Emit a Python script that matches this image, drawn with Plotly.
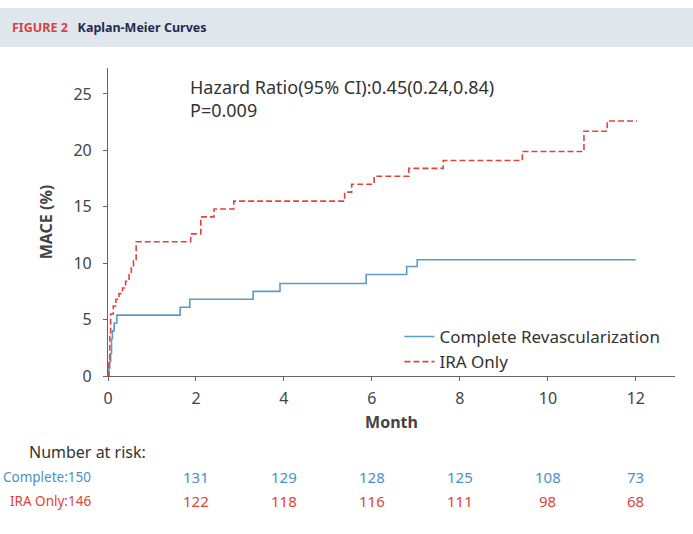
import plotly.graph_objects as go

# Kaplan-Meier step data (cumulative MACE %)
cr_t = [0, 0.02, 0.04, 0.06, 0.08, 0.10, 0.14, 0.20, 1.64, 1.86, 3.30, 3.91, 5.87, 6.79, 7.03, 12.0]
cr_y = [0, 0.7, 1.3, 2.0, 3.3, 4.0, 4.7, 5.4, 6.1, 6.8, 7.5, 8.2, 9.0, 9.7, 10.3, 10.3]

ira_t = [0, 0.02, 0.04, 0.06, 0.12, 0.18, 0.25, 0.33, 0.40, 0.48, 0.53, 0.58, 0.64, 1.88, 2.11,
         2.41, 2.86, 5.38, 5.54, 6.05, 6.84, 7.62, 9.42, 10.82, 11.35, 12.03]
ira_y = [0, 1.5, 3.5, 5.5, 6.2, 6.8, 7.3, 7.8, 8.4, 9.0, 9.6, 10.2, 11.9, 12.6, 14.1,
         14.8, 15.5, 16.3, 17.0, 17.7, 18.4, 19.1, 19.9, 21.7, 22.6, 22.6]

x_ticks = [0, 2, 4, 6, 8, 10, 12]
y_ticks = [0, 5, 10, 15, 20, 25]

risk_times = [0, 2, 4, 6, 8, 10, 12]
complete_risk = [150, 131, 129, 128, 125, 108, 73]
ira_risk = [146, 122, 118, 116, 111, 98, 68]

BLUE = "#5b9bc8"
RED = "#e0453a"
BLUE_T = "#4a8fc7"
RED_T = "#d9443b"
FONT = "Noto Sans"


def py(p):
    # page pixel row -> paper y
    return (376 - p) / 308


def px(p):
    # page pixel column -> paper x
    return (p - 108) / 567


fig = go.Figure()
fig.add_trace(go.Scatter(x=cr_t, y=cr_y, mode="lines", line=dict(color=BLUE, width=1.6, shape="hv"),
                         name="Complete Revascularization"))
fig.add_trace(go.Scatter(x=ira_t, y=ira_y, mode="lines",
                         line=dict(color=RED, width=1.6, shape="hv", dash="6px,3px"),
                         name="IRA Only"))

ann = []
ann.append(dict(x=px(189), y=py(74), xref="paper", yref="paper", xanchor="left", yanchor="top",
                align="left", showarrow=False, borderpad=0,
                text="Hazard Ratio(95% CI):0.45(0.24,0.84)<br>P=0.009",
                font=dict(family=FONT, size=18, color="#333333")))
# header
ann.append(dict(x=px(10), y=py(28), xref="paper", yref="paper",
                xanchor="left", yanchor="middle", showarrow=False,
                text="<b><span style='color:#d9423f'>FIGURE 2</span></b>   <b>Kaplan-Meier Curves</b>",
                font=dict(family=FONT, size=12.5, color="#1f2d4d")))
# number at risk
ann.append(dict(x=px(27), y=py(452), xref="paper", yref="paper",
                xanchor="left", yanchor="middle", showarrow=False, text="Number at risk:",
                font=dict(family=FONT, size=16, color="#333333")))
for i, t in enumerate(risk_times):
    if i == 0:
        ann.append(dict(x=px(93), y=py(477), xref="paper", yref="paper", xanchor="right",
                        yanchor="middle", showarrow=False, text=f"Complete:{complete_risk[i]}",
                        font=dict(family=FONT, size=13.5, color=BLUE_T)))
        ann.append(dict(x=px(93), y=py(501), xref="paper", yref="paper", xanchor="right",
                        yanchor="middle", showarrow=False, text=f"IRA Only:{ira_risk[i]}",
                        font=dict(family=FONT, size=13.5, color=RED_T)))
    else:
        ann.append(dict(x=t, y=py(477), xref="x", yref="paper", xanchor="center",
                        yanchor="middle", showarrow=False, text=str(complete_risk[i]),
                        font=dict(family=FONT, size=15, color=BLUE_T)))
        ann.append(dict(x=t, y=py(501), xref="x", yref="paper", xanchor="center",
                        yanchor="middle", showarrow=False, text=str(ira_risk[i]),
                        font=dict(family=FONT, size=15, color=RED_T)))

fig.update_layout(
    width=693, height=534,
    margin=dict(l=108, r=18, t=68, b=158),
    paper_bgcolor="white", plot_bgcolor="white",
    font=dict(family=FONT, size=16, color="#333333"),
    showlegend=True,
    legend=dict(x=0.514, y=py(319), xanchor="left", yanchor="top", bgcolor="rgba(0,0,0,0)",
                font=dict(family=FONT, size=17, color="#333333"), tracegroupgap=0,
                itemwidth=30),
    annotations=ann,
    shapes=[dict(type="rect", xref="paper", yref="paper", x0=px(0), x1=px(693),
                 y0=py(47), y1=py(8), fillcolor="#dfe7ed", line=dict(width=0),
                 layer="below")],
)
fig.update_xaxes(range=[0, 12.89], tickvals=x_ticks, ticks="outside", ticklen=4, tickcolor="#666",
                 showline=True, linecolor="#666", linewidth=1.2, showgrid=False, zeroline=False,
                 tickfont=dict(size=16, color="#444"), ticklabelstandoff=4,
                 title=dict(text="<b>Month</b>", font=dict(size=16, color="#444"), standoff=8))
fig.update_yaxes(range=[0, 27.3], tickvals=y_ticks, ticks="outside", ticklen=4, tickcolor="#666",
                 showline=True, linecolor="#666", linewidth=1.2, showgrid=False, zeroline=False,
                 tickfont=dict(size=16, color="#444"), ticklabelstandoff=8,
                 title=dict(text="<b>MACE (%)</b>", font=dict(size=16, color="#444"), standoff=16))

fig.write_html("out.html", config={"displayModeBar": False},
               post_script="document.body.style.margin='0px';")
